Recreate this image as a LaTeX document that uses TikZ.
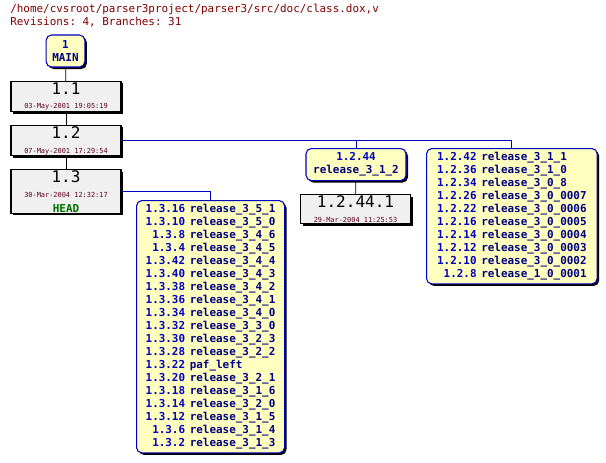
\documentclass[tikz,border=0pt]{standalone}
\usepackage{fontspec}
\setmonofont{DejaVu Sans Mono}
\usetikzlibrary{positioning,shadows}
\definecolor{boxfill}{HTML}{FFFFC0}
\definecolor{revfill}{HTML}{F0F0F0}
\definecolor{tagblue}{HTML}{0000C0}
\definecolor{tagnavy}{HTML}{000080}
\definecolor{darkred}{HTML}{800000}
\definecolor{datered}{HTML}{600020}
\definecolor{headgreen}{HTML}{007000}
\tikzset{
  branch/.style={draw=tagblue,thick,fill=boxfill,rounded corners=4pt,
    drop shadow={shadow xshift=1.5pt,shadow yshift=-1.5pt,opacity=1,fill=black},
    inner sep=2pt,align=center,font=\ttfamily\bfseries\fontsize{8.2}{9.75}\selectfont},
  rev/.style={draw=black,thick,fill=revfill,
    drop shadow={shadow xshift=1.5pt,shadow yshift=-1.5pt,opacity=1,fill=black},
    minimum width=82.5pt,inner sep=1pt,align=center},
  link/.style={draw=tagblue,semithick},
  trunk/.style={draw=black,semithick}
}
\newcommand{\revnum}[1]{{\ttfamily\fontsize{12}{12}\selectfont #1}}
\newcommand{\revdate}[1]{{\ttfamily\color{datered}\fontsize{5.2}{6}\selectfont #1}}
\newcommand{\tg}[2]{\textcolor{tagblue}{#1} & \textcolor{tagnavy}{#2}\\}
\begin{document}
\begin{tikzpicture}[x=0.75pt,y=-0.75pt]
\useasboundingbox (0,0) rectangle (606,462);
% Titel
\node[anchor=north west,inner sep=0pt,align=left,text=darkred,
  font=\ttfamily\fontsize{8.2}{9.75}\selectfont] (title) at (10,4)
  {/home/cvsroot/parser3project/parser3/src/doc/class.dox,v\\Revisions: 4, Branches: 31};

% Stamm
\node[branch,minimum width=29pt,minimum height=24pt] (main) at (65.5,51)
  {\textcolor{tagblue}{1}\\\textcolor{tagnavy}{MAIN}};
\node[rev,minimum height=21.75pt] (r11) at (66,96.5)
  {\revnum{1.1}\\[-1pt]\revdate{03-May-2001 19:05:19}};
\node[rev,minimum height=21.75pt] (r12) at (66,140.5)
  {\revnum{1.2}\\[-1pt]\revdate{07-May-2001 17:29:54}};
\node[rev,minimum height=32.25pt] (r13) at (66,191.5)
  {\revnum{1.3}\\[-1pt]\revdate{30-Mar-2004 12:32:17}\\[-1pt]
   {\ttfamily\bfseries\color{headgreen}\fontsize{8.2}{9.75}\selectfont HEAD}};

% Zweige
\node[branch,anchor=north west,minimum width=111pt] (b13) at (136,200)
  {\begin{tabular}{@{}r@{\hspace{3.5pt}}l@{}}
   \tg{1.3.16}{release\_3\_5\_1}
   \tg{1.3.10}{release\_3\_5\_0}
   \tg{1.3.8}{release\_3\_4\_6}
   \tg{1.3.4}{release\_3\_4\_5}
   \tg{1.3.42}{release\_3\_4\_4}
   \tg{1.3.40}{release\_3\_4\_3}
   \tg{1.3.38}{release\_3\_4\_2}
   \tg{1.3.36}{release\_3\_4\_1}
   \tg{1.3.34}{release\_3\_4\_0}
   \tg{1.3.32}{release\_3\_3\_0}
   \tg{1.3.30}{release\_3\_2\_3}
   \tg{1.3.28}{release\_3\_2\_2}
   \tg{1.3.22}{paf\_left\hspace*{\fill}}
   \tg{1.3.20}{release\_3\_2\_1}
   \tg{1.3.18}{release\_3\_1\_6}
   \tg{1.3.14}{release\_3\_2\_0}
   \tg{1.3.12}{release\_3\_1\_5}
   \tg{1.3.6}{release\_3\_1\_4}
   \tg{1.3.2}{release\_3\_1\_3}
   \end{tabular}};
\node[branch,anchor=north,minimum width=75pt,minimum height=24pt] (b1244) at (356,148)
  {\textcolor{tagblue}{1.2.44}\\\textcolor{tagnavy}{release\_3\_1\_2}};
\node[rev,anchor=north,minimum height=21.75pt] (r12441) at (355.5,194)
  {\revnum{1.2.44.1}\\[-1pt]\revdate{29-Mar-2004 11:25:53}};
\node[branch,anchor=north west,minimum width=128pt] (b12) at (426,148)
  {\begin{tabular}{@{}r@{\hspace{3.5pt}}l@{}}
   \tg{1.2.42}{release\_3\_1\_1}
   \tg{1.2.36}{release\_3\_1\_0}
   \tg{1.2.34}{release\_3\_0\_8}
   \tg{1.2.26}{release\_3\_0\_0007}
   \tg{1.2.22}{release\_3\_0\_0006}
   \tg{1.2.16}{release\_3\_0\_0005}
   \tg{1.2.14}{release\_3\_0\_0004}
   \tg{1.2.12}{release\_3\_0\_0003}
   \tg{1.2.10}{release\_3\_0\_0002}
   \tg{1.2.8}{release\_1\_0\_0001}
   \end{tabular}};

% Verbindungen
\draw[trunk] (main) -- (r11);
\draw[trunk] (r11) -- (r12);
\draw[trunk] (r12) -- (r13);
\draw[trunk] (b1244) -- (r12441);
\draw[link] (r13.east) -| (b13.north);
\draw[link] (r12.east) -| (b1244.north);
\draw[link] (r12.east) -| (b12.north);
\end{tikzpicture}
\end{document}
